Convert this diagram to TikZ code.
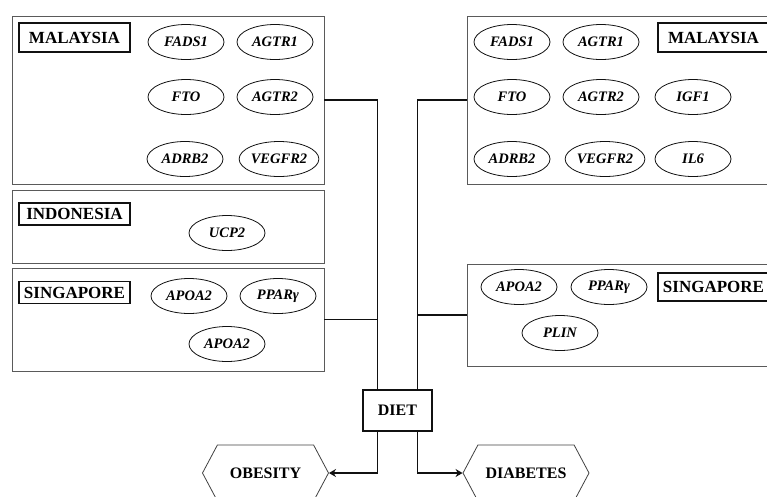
\documentclass[tikz,border=0pt]{standalone}
\usepackage{fontspec}
\setmainfont{Liberation Serif}
\usepackage{tikz}
\usetikzlibrary{arrows.meta,shapes.geometric,shapes.symbols}
\definecolor{ink}{HTML}{111111}
\definecolor{frame}{HTML}{5A5A5A}

\begin{document}
\begin{tikzpicture}[x=1pt,y=-1pt,
  panel/.style={draw=frame,line width=0.9pt,minimum width=312pt,inner sep=0pt},
  country/.style={draw=ink,line width=1.3pt,minimum width=111pt,inner sep=0pt,font=\fontsize{17}{19}\selectfont\bfseries},
  gene/.style={ellipse,draw=ink,line width=0.8pt,minimum width=76pt,minimum height=35pt,inner sep=0pt,font=\fontsize{14.5}{16}\selectfont\bfseries\itshape},
  outcome/.style={signal,signal to=west and east,signal pointer angle=124,draw=ink!80,line width=0.8pt,minimum width=126pt,minimum height=56pt,inner sep=0pt,font=\fontsize{16}{18}\selectfont\bfseries},
  link/.style={draw=ink,line width=1.8pt},
  arr/.style={link,-{Stealth[length=7pt,width=8pt]}}]
\clip (0,0) rectangle (767,496);

% left column
\node[panel,minimum height=168pt] (mysL) at (168,100) {};
\node[panel,minimum height=73pt] (idn) at (168,226.5) {};
\node[panel,minimum height=103pt] (sgL) at (168,319.5) {};
\node[country,minimum height=29pt] (mysLlab) at (74.5,37.5) {MALAYSIA};
\node[country,minimum height=22pt] (idnlab) at (74.5,214) {INDONESIA};
\node[country,minimum height=22pt] (sgLlab) at (74.5,292.5) {SINGAPORE};
\foreach \n/\t/\x/\y in {lfads/FADS1/186/42,lagtra/AGTR1/275/42,lfto/FTO/186/97,lagtrb/AGTR2/275/97,
  ladrb/ADRB2/185/159,lvegf/VEGFR2/279/159,lucp/UCP2/227/233,
  lapoa/APOA2/189/296,lppar/PPARγ/278/296,lapob/APOA2/227/344}
  \node[gene] (\n) at (\x,\y) {\t};

% right column
\node[panel,minimum height=168pt] (mysR) at (623,100) {};
\node[panel,minimum height=102pt] (sgR) at (623,315) {};
\node[country,minimum height=29pt] (mysRlab) at (713.5,37.5) {MALAYSIA};
\node[country,minimum height=28pt] (sgRlab) at (713.5,287) {SINGAPORE};
\foreach \n/\t/\x/\y in {rfads/FADS1/512/42,ragtra/AGTR1/601/42,rfto/FTO/512/97,ragtrb/AGTR2/601/97,
  rigf/IGF1/693/97,radrb/ADRB2/512/159,rvegf/VEGFR2/605/159,ril/IL6/693/159,
  rapoa/APOA2/519/287,rppar/PPARγ/609/287,rplin/PLIN/560/333}
  \node[gene] (\n) at (\x,\y) {\t};

% diet and outcomes
\node[draw=ink,line width=1.3pt,minimum width=69pt,minimum height=41pt,inner sep=0pt,font=\fontsize{16}{18}\selectfont\bfseries] (diet) at (397.5,410.5) {DIET};
\node[outcome] (obes) at (265.5,473) {OBESITY};
\node[outcome] (diab) at (526,473) {DIABETES};

\draw[link] (mysL.east) -| ([xshift=-20pt]diet.north);
\draw[link] (sgL.east) -| ([xshift=-20pt]diet.north);
\draw[link] (mysR.west) -| ([xshift=20pt]diet.north);
\draw[link] (sgR.west) -| ([xshift=20pt]diet.north);
\draw[arr] ([xshift=-20pt]diet.south) |- (obes.east);
\draw[arr] ([xshift=20pt]diet.south) |- (diab.west);
\end{tikzpicture}
\end{document}
